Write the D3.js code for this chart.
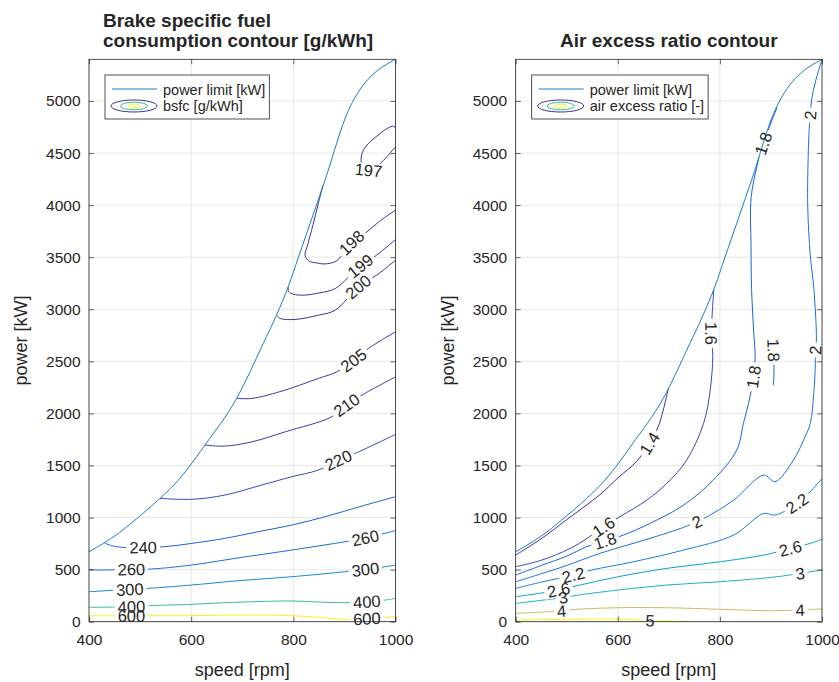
<!DOCTYPE html>
<html><head><meta charset="utf-8">
<script src="https://cdn.jsdelivr.net/npm/d3@7/dist/d3.min.js"></script>
<style>
body{margin:0;background:#fff;}
svg text{font-family:"Liberation Sans",Arial,Helvetica,sans-serif;}
</style></head><body>
<svg id="chart" width="839" height="682"></svg>
<script>
// ---------------- DATA ----------------
const speedDomain = [400, 1000];
const powerDomain = [0, 5400];
const speedTicks = [400, 600, 800, 1000];
const powerTicks = [0, 500, 1000, 1500, 2000, 2500, 3000, 3500, 4000, 4500, 5000];

// power limit curve [speed rpm, power kW]
const powerLimit = [[400,672],[428,752],[470,895],[490,976],[539,1184],[575,1360],[591,1456],[627,1696],[689,2144],[741,2670],[767,2943],[790,3215],[810,3500],[862,4239],[908,4911],[1000,5400]];

// BSFC contours [speed, power]
const bsfc197 = [[1000,4560],[983,4463],[970,4399],[958,4350],[947,4335],[937,4360],[933,4400],[933,4463],[937,4527],[950,4607],[970,4687],[985,4740],[996,4757],[1000,4740]];
const bsfc198 = [[858,4190],[848,4000],[838,3800],[828,3620],[823,3519],[830,3465],[849,3442],[862,3435],[885,3466],[914,3640],[944,3743],[970,3850],[1000,3951]];
const bsfc199 = [[790,3215],[791,3167],[800,3145],[819,3135],[852,3158],[882,3199],[931,3415],[963,3519],[1000,3670]];
const bsfc200 = [[767,2943],[774,2912],[803,2902],[849,2943],[882,2991],[927,3215],[963,3327],[1000,3471]];
const bsfc205 = [[689,2144],[719,2144],[784,2224],[849,2336],[885,2399],[918,2511],[947,2624],[1000,2783]];
const bsfc210 = [[627,1696],[666,1686],[719,1727],[784,1823],[875,1967],[904,2080],[940,2192],[1000,2351]];
const bsfc220 = [[539,1184],[601,1175],[666,1216],[738,1312],[797,1392],[849,1456],[888,1552],[921,1616],[1000,1798]];
const bsfc240 = [[430,758],[444,730],[470,712],[506,714],[549,720],[601,752],[666,800],[731,864],[797,928],[862,1008],[934,1110],[1000,1200]];
const bsfc260 = [[400,503],[418,496],[483,503],[522,506],[601,544],[686,608],[797,688],[901,768],[941,805],[980,850],[1000,875]];
const bsfc300 = [[400,288],[480,311],[516,320],[601,352],[686,391],[797,432],[901,480],[941,503],[980,528],[1000,544]];
const bsfc400 = [[400,138],[483,144],[519,154],[601,167],[686,186],[797,199],[849,189],[901,182],[944,192],[980,208],[1000,224]];
const bsfc600 = [[400,58],[483,56],[519,58],[601,58],[686,64],[797,58],[849,42],[901,23],[944,30],[1000,48]];
const bsfcLevels = [197,198,199,200,205,210,220,240,260,300,400,600];
const bsfcLines = [bsfc197,bsfc198,bsfc199,bsfc200,bsfc205,bsfc210,bsfc220,bsfc240,bsfc260,bsfc300,bsfc400,bsfc600];
// label positions [level, speed, power]
const bsfcLabels = [[197,947,4335],[198,914,3640],[199,931,3415],[200,927,3215],[205,918,2511],[210,904,2080],[220,888,1552],[240,506,714],[260,483,503],[260,941,805],[300,480,311],[300,941,503],[400,483,144],[400,944,192],[600,483,56],[600,944,30]];

// Air excess ratio contours
const aer14 = [[400,640],[448,790],[500,980],[565,1220],[600,1380],[637,1540],[662,1712],[679,1871],[689,2032],[699,2240]];
const aer16 = [[400,528],[450,590],[507,704],[540,800],[572,912],[604,1008],[657,1168],[696,1328],[735,1552],[768,1904],[781,2224],[786,2559],[783,2768],[785,2960],[788,3190]];
const aer18 = [[400,448],[450,540],[500,630],[539,720],[575,776],[611,832],[663,944],[729,1120],[787,1360],[833,1648],[846,1904],[856,2096],[866,2351],[869,2543],[866,2800],[862,3200],[861,3600],[861,4064],[873,4383],[885,4591],[902,4815],[912,4935]];
const aer18b = [[904,2740],[905,2607],[906,2450],[905,2271]];
const aer20 = [[400,384],[450,460],[500,540],[565,656],[663,800],[729,906],[755,960],[775,1008],[827,1168],[886,1408],[908,1344],[944,1552],[964,1744],[977,1904],[984,2200],[987,2480],[987,2608],[989,2703],[984,3200],[977,3519],[972,4000],[973,4479],[975,4735],[977,4863],[980,5023],[987,5182],[1000,5400]];
const aer22 = [[400,320],[450,380],[513,448],[549,496],[631,576],[729,688],[827,832],[886,1040],[908,1024],[951,1136],[980,1264],[1000,1376]];
const aer26 = [[400,240],[450,275],[484,305],[520,345],[601,432],[696,512],[801,576],[886,640],[938,704],[977,752],[1000,791]];
const aer30 = [[400,176],[450,205],[493,232],[529,260],[601,304],[696,352],[801,384],[912,432],[957,464],[1000,496]];
const aer40 = [[400,80],[467,96],[490,104],[520,119],[601,134],[696,134],[801,119],[892,106],[957,112],[983,119],[1000,122]];
const aer50 = [[400,16],[500,23],[598,26],[644,16],[663,12],[696,7],[745,0]];
const aerLevels = [1.4,1.6,1.8,1.8,2,2.2,2.6,3,4,5];
const aerLines = [aer14,aer16,aer18,aer18b,aer20,aer22,aer26,aer30,aer40,aer50];
const aerLabels = [[1.4,662,1712],[1.6,572,912],[1.6,783,2768],[1.8,575,776],[1.8,866,2351],[1.8,885,4591],[1.8,905,2607],[2,755,960],[2,987,2608],[2,977,4863],[2.2,513,448],[2.2,951,1136],[2.6,484,305],[2.6,938,704],[3,493,232],[3,957,464],[4,490,104],[4,957,112],[5,663,12]];

// ---------------- STYLE ----------------
const INK = '#262626';
const LIMIT = '#1a7dc6';
const FONT = '"Liberation Sans",Arial,Helvetica,sans-serif';
const parulaStops = [0, 3/63, 5/63, 7/63, 14/63, 21/63, 28/63, 35/63, 42/63, 49/63, 56/63, 1];
const parulaCols = ['rgb(58,48,145)','rgb(58,66,180)','rgb(48,80,205)','rgb(22,98,224)','rgb(22,128,218)','rgb(10,158,208)','rgb(24,178,182)','rgb(92,190,142)','rgb(176,190,104)','rgb(226,186,84)','rgb(252,206,48)','rgb(245,245,20)'];
const parulaScale = d3.scaleLinear().domain(parulaStops).range(parulaCols).interpolate(d3.interpolateRgb);

const svg = d3.select('#chart');
const defs = svg.append('defs');
const TOP = 59.3, BOTTOM = 621.7;
const y = d3.scaleLinear().domain(powerDomain).range([BOTTOM, TOP]);
const tickFmt = d3.format('d');

function drawPanel(cfg){
  const x = d3.scaleLinear().domain(speedDomain).range([cfg.x0, cfg.x1]);
  const clim = d3.extent(cfg.levels);
  const color = v => parulaScale((v - clim[0]) / (clim[1] - clim[0]));
  const g = svg.append('g');
  const w = cfg.x1 - cfg.x0, h = BOTTOM - TOP;

  // grid
  g.append('g').selectAll('line').data(speedTicks).join('line')
    .attr('x1', d => x(d)).attr('x2', d => x(d)).attr('y1', TOP).attr('y2', BOTTOM)
    .attr('stroke', '#dcdcdc').attr('stroke-width', 0.7);
  g.append('g').selectAll('line').data(powerTicks).join('line')
    .attr('y1', d => y(d)).attr('y2', d => y(d)).attr('x1', cfg.x0).attr('x2', cfg.x1)
    .attr('stroke', '#dcdcdc').attr('stroke-width', 0.7);

  defs.append('clipPath').attr('id', 'clip' + cfg.id).append('rect')
    .attr('x', cfg.x0).attr('y', TOP).attr('width', w).attr('height', h);
  const mask = defs.append('mask').attr('id', 'mask' + cfg.id)
    .attr('maskUnits', 'userSpaceOnUse').attr('x', 0).attr('y', 0).attr('width', 839).attr('height', 682);
  mask.append('rect').attr('width', 839).attr('height', 682).attr('fill', 'white');

  const line = d3.line().x(d => x(d[0])).y(d => y(d[1])).curve(d3.curveCatmullRom.alpha(0.5));
  const cg = g.append('g').attr('clip-path', `url(#clip${cfg.id})`).append('g').attr('mask', `url(#mask${cfg.id})`);
  cfg.lines.forEach((pts, i) => {
    cg.append('path').attr('d', line(pts)).attr('fill', 'none')
      .attr('stroke', color(cfg.levels[i])).attr('stroke-width', 1);
  });

  // power limit
  g.append('g').attr('clip-path', `url(#clip${cfg.id})`).append('path')
    .attr('d', d3.line().x(d => x(d[0])).y(d => y(d[1])).curve(d3.curveMonotoneX)(powerLimit))
    .attr('fill', 'none').attr('stroke', LIMIT).attr('stroke-width', 1);

  // contour labels
  const lg = g.append('g');
  cfg.labels.forEach(([lvl, s, pw]) => {
    const px = x(s), py = y(pw);
    let best = null, bd = Infinity;
    cfg.lines.forEach((pts, i) => {
      if (cfg.levels[i] !== lvl) return;
      pts.forEach((p, j) => {
        const d = Math.hypot(x(p[0]) - px, y(p[1]) - py);
        if (d < bd) { bd = d; best = [pts, j]; }
      });
    });
    let ang = 0;
    if (best) {
      const [pts, j] = best;
      const a = pts[Math.max(0, j - 1)], b = pts[Math.min(pts.length - 1, j + 1)];
      ang = Math.atan2(y(b[1]) - y(a[1]), x(b[0]) - x(a[0])) * 180 / Math.PI;
      if (ang > 90) ang -= 180;
      if (ang <= -90) ang += 180;
    }
    const tf = `translate(${px},${py}) rotate(${ang})`;
    const t = lg.append('text').attr('transform', tf).attr('text-anchor', 'middle').attr('dy', '0.36em')
      .attr('font-size', 16.5).attr('fill', INK).text(String(lvl));
    const bb = t.node().getBBox();
    mask.append('rect').attr('transform', tf)
      .attr('x', -bb.width / 2 - 3).attr('y', -7).attr('width', bb.width + 6).attr('height', 14).attr('fill', 'black');
  });

  // axes
  const styleAxis = sel => {
    sel.select('.domain').remove();
    sel.attr('font-family', FONT).attr('font-size', 15.5);
    sel.selectAll('.tick line').attr('stroke', INK).attr('stroke-width', 0.7);
    sel.selectAll('.tick text').attr('fill', INK);
  };
  g.append('g').attr('transform', `translate(0,${BOTTOM})`)
    .call(d3.axisBottom(x).tickValues(speedTicks).tickFormat(tickFmt).tickSize(-5).tickPadding(12)).call(styleAxis);
  g.append('g').attr('transform', `translate(0,${TOP})`)
    .call(d3.axisTop(x).tickValues(speedTicks).tickSize(-5).tickFormat(() => '')).call(styleAxis);
  g.append('g').attr('transform', `translate(${cfg.x0},0)`)
    .call(d3.axisLeft(y).tickValues(powerTicks).tickFormat(tickFmt).tickSize(-5).tickPadding(8.5)).call(styleAxis);
  g.append('g').attr('transform', `translate(${cfg.x1},0)`)
    .call(d3.axisRight(y).tickValues(powerTicks).tickSize(-5).tickFormat(() => '')).call(styleAxis);
  g.append('rect').attr('x', cfg.x0).attr('y', TOP).attr('width', w).attr('height', h)
    .attr('fill', 'none').attr('stroke', INK).attr('stroke-width', 0.8);

  // axis labels
  g.append('text').attr('x', (cfg.x0 + cfg.x1) / 2).attr('y', 676).attr('text-anchor', 'middle')
    .attr('font-size', 18).attr('fill', INK).text('speed [rpm]');
  g.append('text').attr('transform', `translate(${cfg.x0 - 62},${(TOP + BOTTOM) / 2}) rotate(-90)`)
    .attr('text-anchor', 'middle').attr('font-size', 18).attr('fill', INK).text('power [kW]');

  // title
  const tt = g.append('text').attr('font-size', 19).attr('font-weight', 'bold').attr('fill', INK)
    .attr('text-anchor', cfg.titleAnchor);
  cfg.title.forEach((ln, i) => {
    tt.append('tspan').attr('x', cfg.titleX).attr('y', 47 - (cfg.title.length - 1 - i) * 20).text(ln);
  });

  // legend
  const lx = cfg.x0 + 16, ly = 75;
  const leg = g.append('g');
  const box = leg.append('rect').attr('x', lx).attr('y', ly).attr('height', 44)
    .attr('fill', 'white').attr('stroke', INK).attr('stroke-width', 0.8);
  leg.append('line').attr('x1', lx + 7).attr('x2', lx + 52).attr('y1', ly + 14).attr('y2', ly + 14)
    .attr('stroke', LIMIT).attr('stroke-width', 1);
  const t1 = leg.append('text').attr('x', lx + 58).attr('y', ly + 19.5).attr('font-size', 14.5).attr('fill', INK).text('power limit [kW]');
  const ecx = lx + 29, ecy = ly + 31;
  [[23, 6, 0], [13.5, 3.8, 0.5], [6, 2, 1]].forEach(([rx, ry, tcol]) => {
    leg.append('ellipse').attr('cx', ecx).attr('cy', ecy).attr('rx', rx).attr('ry', ry)
      .attr('fill', 'none').attr('stroke', parulaScale(tcol)).attr('stroke-width', 1);
  });
  const t2 = leg.append('text').attr('x', lx + 58).attr('y', ly + 36).attr('font-size', 14.5).attr('fill', INK).text(cfg.legendLabel);
  const tw = Math.max(t1.node().getComputedTextLength(), t2.node().getComputedTextLength());
  box.attr('width', 58 + tw + 4);
}

drawPanel({id: 'L', x0: 89, x1: 395.5, levels: bsfcLevels, lines: bsfcLines, labels: bsfcLabels,
  title: ['Brake specific fuel', 'consumption contour [g/kWh]'], titleX: 103, titleAnchor: 'start',
  legendLabel: 'bsfc [g/kWh]'});
drawPanel({id: 'R', x0: 515.7, x1: 822, levels: aerLevels, lines: aerLines, labels: aerLabels,
  title: ['Air excess ratio contour'], titleX: 668.85, titleAnchor: 'middle',
  legendLabel: 'air excess ratio [-]'});
</script></body></html>
